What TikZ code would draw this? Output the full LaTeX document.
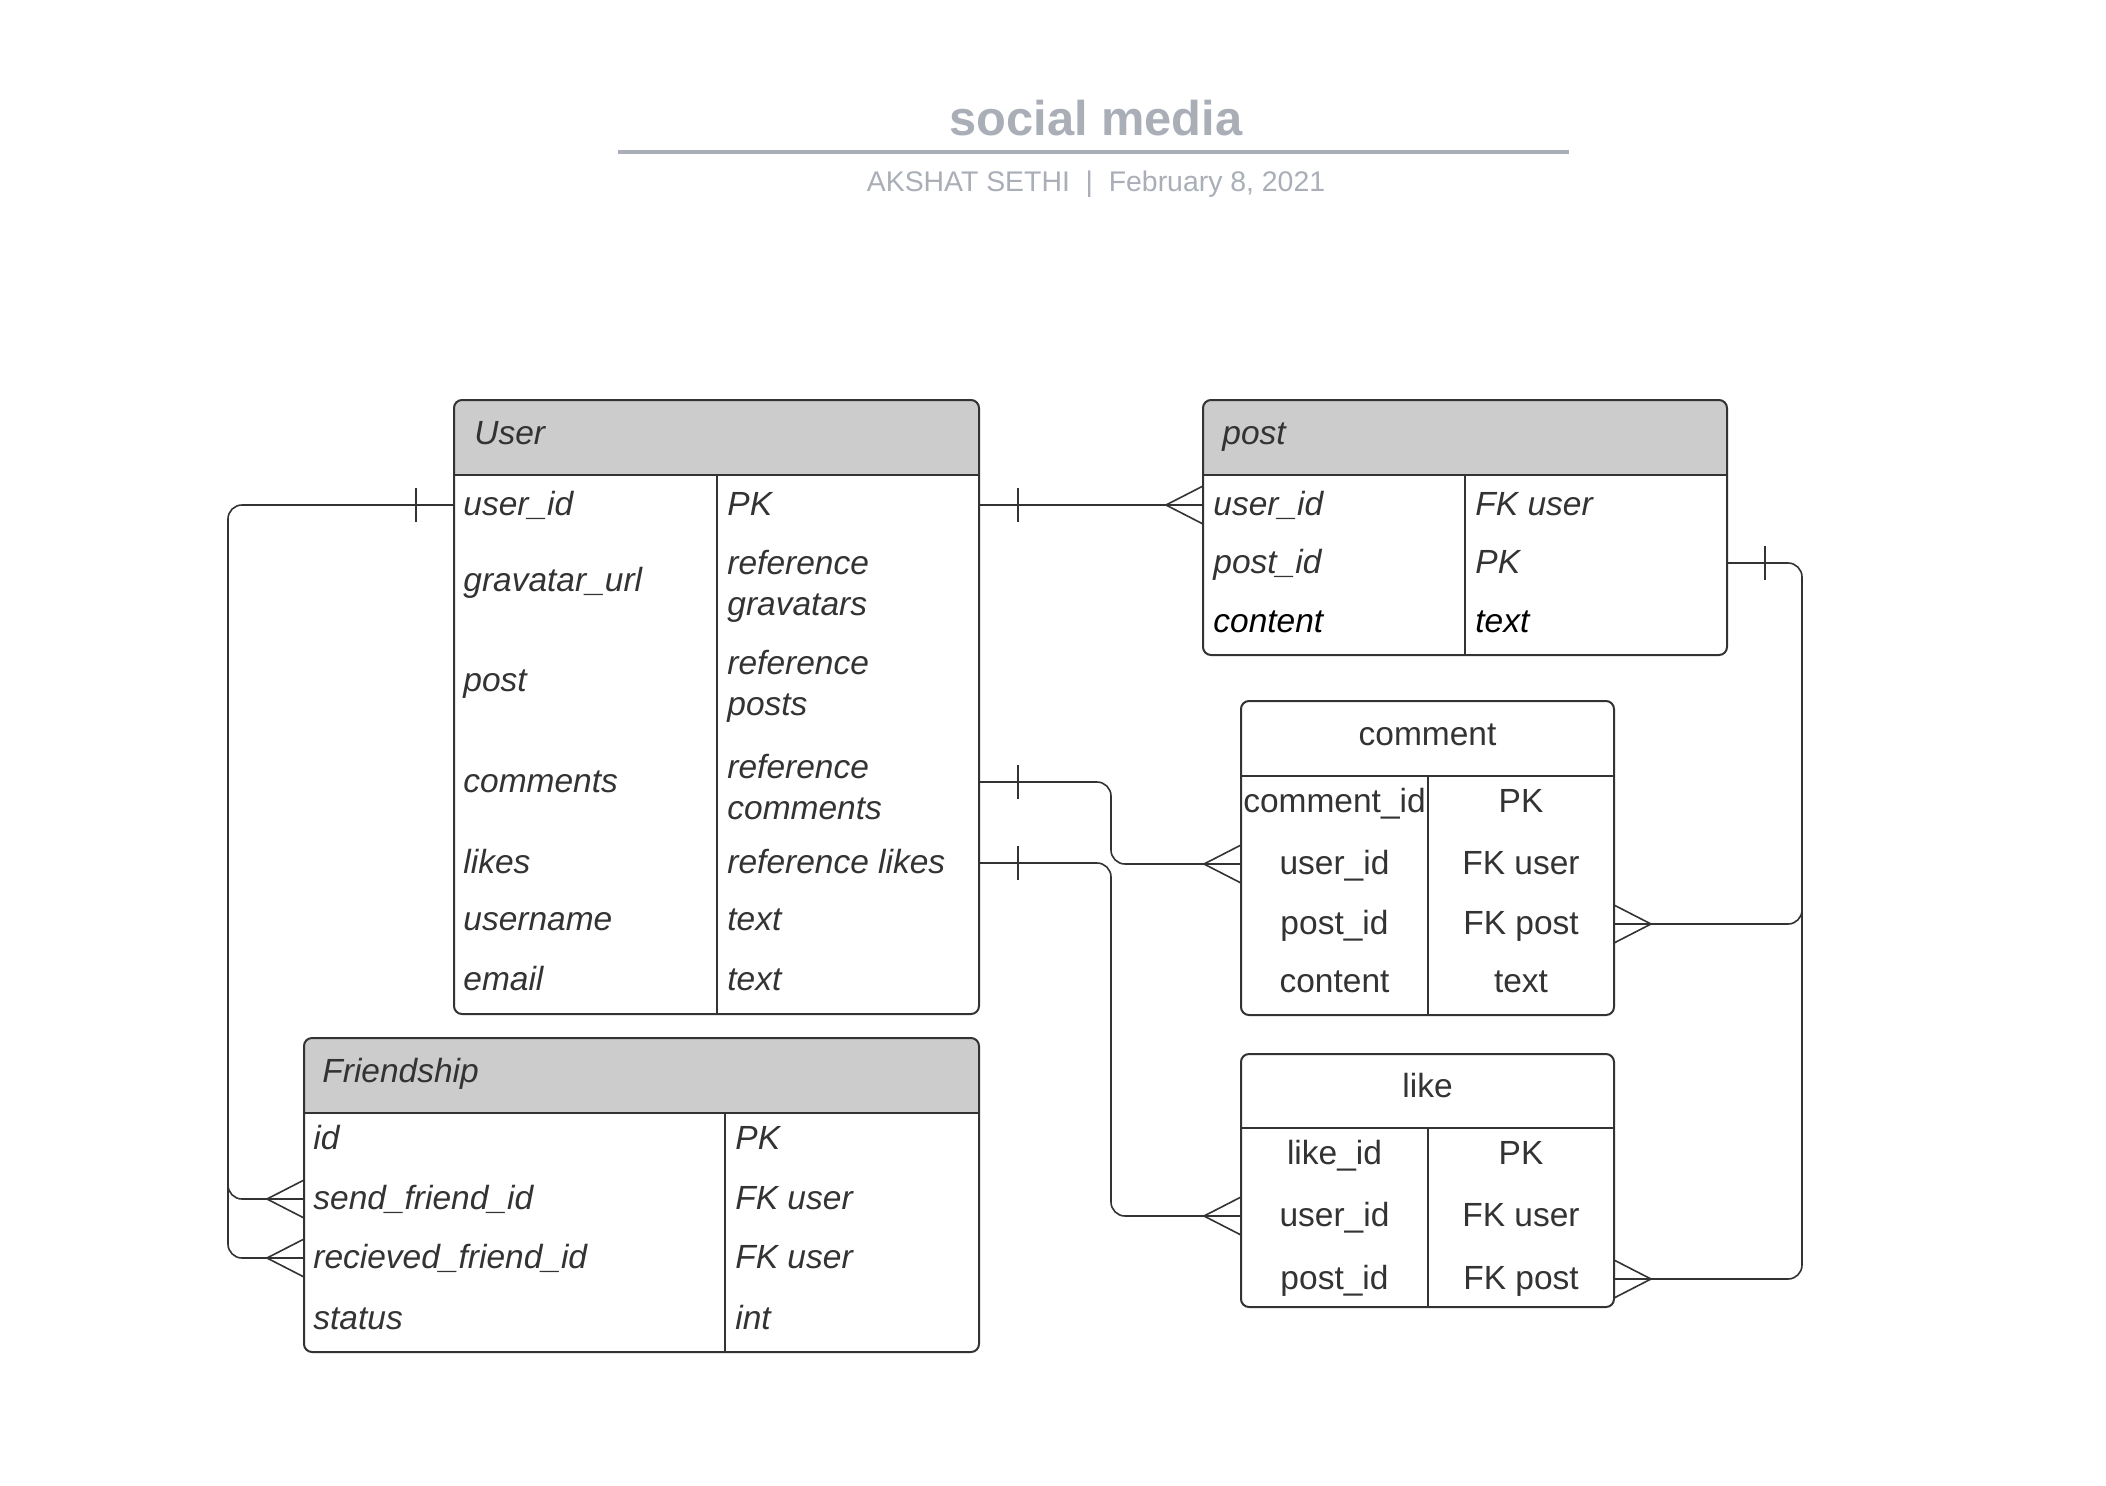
\documentclass[tikz,border=0pt]{standalone}
\usepackage{fontspec}
\setmainfont{Liberation Sans}
\usetikzlibrary{fit}
\definecolor{ink}{HTML}{333333}
\definecolor{hdr}{HTML}{CCCCCC}
\definecolor{ttl}{HTML}{A9AEB7}
\newcommand\erbox[8]{% name x1 y1 x2 y2 headerbottom divider headerfill
  \fill[#8, rounded corners=4pt] (#2,#3) rectangle (#4,#6);
  \fill[#8] (#2,#6-14) rectangle (#4,#6);
  \coordinate (#1-nw) at (#2,#3);
  \coordinate (#1-se) at (#4,#5);
  \node[tbl, fit=(#1-nw)(#1-se)] (#1) {};
  \draw[ink, line width=1pt] (#2,#6) -- (#4,#6);
  \draw[ink, line width=0.9pt] (#7,#6) -- (#7,#5);
}
\begin{document}
\begin{tikzpicture}[x=0.5pt,y=-0.5pt,
  tbl/.style={draw=ink, line width=1pt, rounded corners=4pt, inner sep=0pt, outer sep=0pt},
  fld/.style={anchor=west, inner sep=0pt, text=ink, yshift=-2.6pt, text height=0.72em, text depth=0.21em, font=\fontsize{16.75}{20.8}\selectfont\itshape},
  fldtwo/.style={anchor=west, inner sep=0pt, text=ink, yshift=-2.6pt, align=left, font=\fontsize{16.75}{20.8}\selectfont\itshape},
  cfld/.style={anchor=center, inner sep=0pt, text=ink, yshift=-2.6pt, text height=0.72em, text depth=0.21em, font=\fontsize{16.75}{20.8}\selectfont},
  lnk/.style={draw=ink, line width=0.8pt, rounded corners=7pt},
  crowW/.pic={\draw[ink, line width=0.8pt] (0,-19) -- (-37,0) -- (0,19);},
  crowE/.pic={\draw[ink, line width=0.8pt] (0,-19) -- (37,0) -- (0,19);},
  tick/.pic={\draw[ink, line width=0.8pt] (0,-17) -- (0,17);}
]
\useasboundingbox (0,0) rectangle (2106,1485);
\fill[white] (0,0) rectangle (2106,1485);

% title
\node[text=ttl, font=\fontsize{24.4}{28}\selectfont\bfseries] (title) at (1096,118) {social media};
\draw[ttl, line width=2pt] (618,152) -- (1569,152);
\node[text=ttl, font=\fontsize{14.2}{17}\selectfont] (subtitle) at (1096,184) {AKSHAT SETHI\ \ |\ \ February 8, 2021};

% row coordinates
\coordinate (uid) at (0,505);
\coordinate (ugrav) at (0,581);
\coordinate (upost) at (0,681);
\coordinate (ucom) at (0,782);
\coordinate (ulik) at (0,863);
\coordinate (uname) at (0,920);
\coordinate (umail) at (0,980);
\coordinate (puid) at (0,505);
\coordinate (ppid) at (0,563);
\coordinate (pcont) at (0,622);
\coordinate (cid) at (0,802);
\coordinate (cuid) at (0,864);
\coordinate (cpid) at (0,924);
\coordinate (ccont) at (0,982);
\coordinate (lid) at (0,1154);
\coordinate (luid) at (0,1216);
\coordinate (lpid) at (0,1279);
\coordinate (fid) at (0,1139);
\coordinate (fsend) at (0,1199);
\coordinate (frec) at (0,1258);
\coordinate (fstat) at (0,1319);

% tables
\erbox{user}{454}{400}{979}{1014}{475}{717}{hdr}
\erbox{post}{1203}{400}{1727}{655}{475}{1465}{hdr}
\erbox{comment}{1241}{701}{1614}{1015}{776}{1428}{white}
\erbox{like}{1241}{1054}{1614}{1307}{1128}{1428}{white}
\erbox{fr}{304}{1038}{979}{1352}{1113}{725}{hdr}

% User texts
\node[fld] (userT) at (474,434) {User};
\node[fld] (u1a) at (463,0 |- uid) {user\_id};
\node[fld] (u1b) at (727,0 |- uid) {PK};
\node[fld] (u2a) at (463,0 |- ugrav) {gravatar\_url};
\node[fldtwo] (u2b) at (727,0 |- ugrav) {reference\\gravatars};
\node[fld] (u3a) at (463,0 |- upost) {post};
\node[fldtwo] (u3b) at (727,0 |- upost) {reference\\posts};
\node[fld] (u4a) at (463,0 |- ucom) {comments};
\node[fldtwo] (u4b) at (727,0 |- ucom) {reference\\comments};
\node[fld] (u5a) at (463,0 |- ulik) {likes};
\node[fld] (u5b) at (727,0 |- ulik) {reference likes};
\node[fld] (u6a) at (463,0 |- uname) {username};
\node[fld] (u6b) at (727,0 |- uname) {text};
\node[fld] (u7a) at (463,0 |- umail) {email};
\node[fld] (u7b) at (727,0 |- umail) {text};

% post texts
\node[fld] (postT) at (1222,434) {post};
\node[fld] (p1a) at (1213,0 |- puid) {user\_id};
\node[fld] (p1b) at (1475,0 |- puid) {FK user};
\node[fld] (p2a) at (1213,0 |- ppid) {post\_id};
\node[fld] (p2b) at (1475,0 |- ppid) {PK};
\node[fld, text=black] (p3a) at (1213,0 |- pcont) {content};
\node[fld, text=black] (p3b) at (1475,0 |- pcont) {text};

% comment texts
\node[cfld] (commentT) at (1427.5,735) {comment};
\node[cfld] (c1a) at (1334.5,0 |- cid) {comment\_id};
\node[cfld] (c1b) at (1521,0 |- cid) {PK};
\node[cfld] (c2a) at (1334.5,0 |- cuid) {user\_id};
\node[cfld] (c2b) at (1521,0 |- cuid) {FK user};
\node[cfld] (c3a) at (1334.5,0 |- cpid) {post\_id};
\node[cfld] (c3b) at (1521,0 |- cpid) {FK post};
\node[cfld] (c4a) at (1334.5,0 |- ccont) {content};
\node[cfld] (c4b) at (1521,0 |- ccont) {text};

% like texts
\node[cfld] (likeT) at (1427.5,1087) {like};
\node[cfld] (l1a) at (1334.5,0 |- lid) {like\_id};
\node[cfld] (l1b) at (1521,0 |- lid) {PK};
\node[cfld] (l2a) at (1334.5,0 |- luid) {user\_id};
\node[cfld] (l2b) at (1521,0 |- luid) {FK user};
\node[cfld] (l3a) at (1334.5,0 |- lpid) {post\_id};
\node[cfld] (l3b) at (1521,0 |- lpid) {FK post};

% Friendship texts
\node[fld] (frT) at (322,1072) {Friendship};
\node[fld] (f1a) at (313,0 |- fid) {id};
\node[fld] (f1b) at (735,0 |- fid) {PK};
\node[fld] (f2a) at (313,0 |- fsend) {send\_friend\_id};
\node[fld] (f2b) at (735,0 |- fsend) {FK user};
\node[fld] (f3a) at (313,0 |- frec) {recieved\_friend\_id};
\node[fld] (f3b) at (735,0 |- frec) {FK user};
\node[fld] (f4a) at (313,0 |- fstat) {status};
\node[fld] (f4b) at (735,0 |- fstat) {int};

% connectors
\draw[lnk] (user.west |- uid) -- (228,0 |- uid) -- (228,0 |- frec) -- (fr.west |- frec);
\draw[lnk] (228,1100) -- (228,0 |- fsend) -- (fr.west |- fsend);
\pic at (416,0 |- uid) {tick};
\pic at (fr.west |- fsend) {crowW};
\pic at (fr.west |- frec) {crowW};

\draw[lnk] (user.east |- uid) -- (post.west |- puid);
\pic at (1018,0 |- uid) {tick};
\pic at (post.west |- puid) {crowW};

\draw[lnk] (user.east |- ucom) -- (1111,0 |- ucom) -- (1111,0 |- cuid) -- (comment.west |- cuid);
\pic at (1018,0 |- ucom) {tick};
\pic at (comment.west |- cuid) {crowW};

\draw[lnk] (user.east |- ulik) -- (1111,0 |- ulik) -- (1111,0 |- luid) -- (like.west |- luid);
\pic at (1018,0 |- ulik) {tick};
\pic at (like.west |- luid) {crowW};

\draw[lnk] (post.east |- ppid) -- (1802,0 |- ppid) -- (1802,0 |- lpid) -- (like.east |- lpid);
\draw[lnk] (1802,850) -- (1802,0 |- cpid) -- (comment.east |- cpid);
\pic at (1765,0 |- ppid) {tick};
\pic at (comment.east |- cpid) {crowE};
\pic at (like.east |- lpid) {crowE};
\end{tikzpicture}
\end{document}
